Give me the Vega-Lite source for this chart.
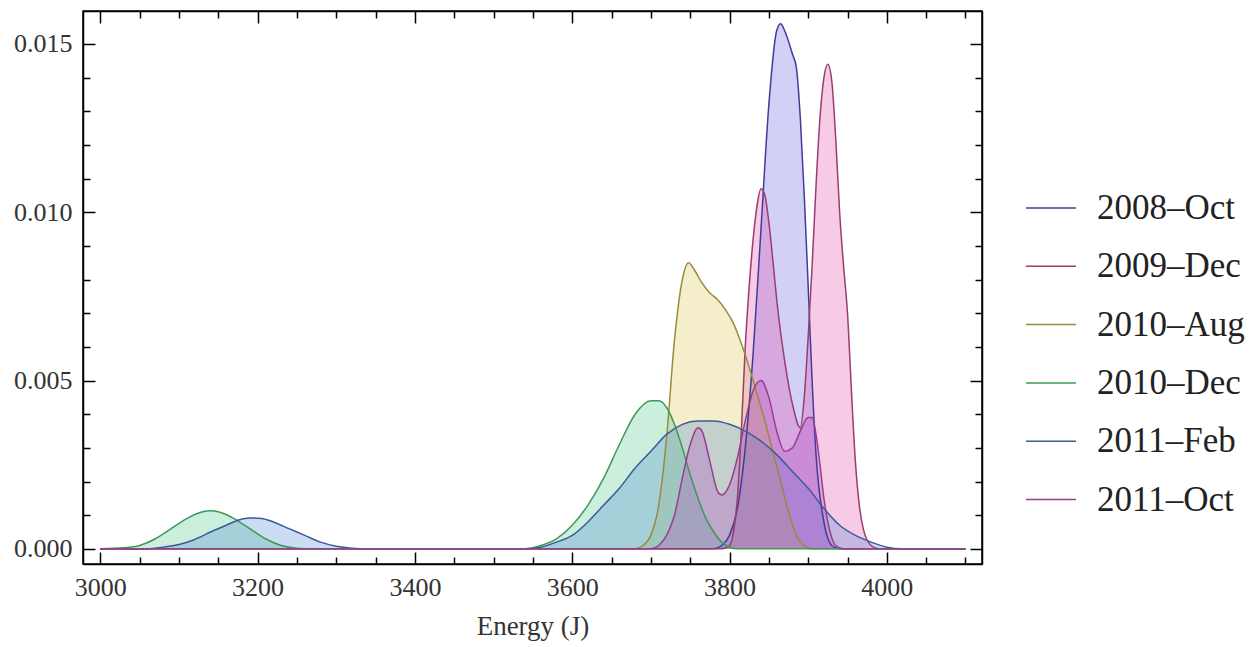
{
  "$schema": "https://vega.github.io/schema/vega-lite/v6.json",
  "width": 899,
  "height": 553,
  "autosize": {"type": "none"},
  "padding": {"left": 83, "top": 11, "right": 276, "bottom": 83},
  "background": "white",
  "config": {"view": {"stroke": "black", "strokeWidth": 1.5}, "font": "Liberation Serif"},
  "datasets": {
    "d": [
      {"s":"2008–Oct","E":3000,"d":0},{"s":"2008–Oct","E":3780,"d":0},{"s":"2008–Oct","E":3790,"d":0.0001},{"s":"2008–Oct","E":3800,"d":0.0004},{"s":"2008–Oct","E":3810,"d":0.0012},{"s":"2008–Oct","E":3820,"d":0.003},{"s":"2008–Oct","E":3830,"d":0.0058},{"s":"2008–Oct","E":3840,"d":0.0095},{"s":"2008–Oct","E":3850,"d":0.0132},{"s":"2008–Oct","E":3860,"d":0.0154},{"s":"2008–Oct","E":3865,"d":0.0156},{"s":"2008–Oct","E":3870,"d":0.0154},{"s":"2008–Oct","E":3880,"d":0.0147},{"s":"2008–Oct","E":3885,"d":0.0143},{"s":"2008–Oct","E":3890,"d":0.0128},{"s":"2008–Oct","E":3895,"d":0.0105},{"s":"2008–Oct","E":3900,"d":0.0078},{"s":"2008–Oct","E":3905,"d":0.005},{"s":"2008–Oct","E":3910,"d":0.0028},{"s":"2008–Oct","E":3920,"d":0.0008},{"s":"2008–Oct","E":3930,"d":0.0001},{"s":"2008–Oct","E":3940,"d":0},{"s":"2008–Oct","E":4100,"d":0},

      {"s":"2009–Dec","E":3000,"d":0},{"s":"2009–Dec","E":3790,"d":0},{"s":"2009–Dec","E":3800,"d":0.0001},{"s":"2009–Dec","E":3805,"d":0.0005},{"s":"2009–Dec","E":3810,"d":0.0015},{"s":"2009–Dec","E":3815,"d":0.0035},{"s":"2009–Dec","E":3820,"d":0.006},{"s":"2009–Dec","E":3825,"d":0.0078},{"s":"2009–Dec","E":3830,"d":0.0092},{"s":"2009–Dec","E":3835,"d":0.0102},{"s":"2009–Dec","E":3840,"d":0.0107},{"s":"2009–Dec","E":3845,"d":0.0105},{"s":"2009–Dec","E":3850,"d":0.0097},{"s":"2009–Dec","E":3855,"d":0.0086},{"s":"2009–Dec","E":3860,"d":0.0074},{"s":"2009–Dec","E":3870,"d":0.0056},{"s":"2009–Dec","E":3880,"d":0.0043},{"s":"2009–Dec","E":3890,"d":0.0036},{"s":"2009–Dec","E":3895,"d":0.0045},{"s":"2009–Dec","E":3900,"d":0.0063},{"s":"2009–Dec","E":3905,"d":0.0084},{"s":"2009–Dec","E":3910,"d":0.0108},{"s":"2009–Dec","E":3915,"d":0.0128},{"s":"2009–Dec","E":3920,"d":0.014},{"s":"2009–Dec","E":3925,"d":0.0144},{"s":"2009–Dec","E":3930,"d":0.0139},{"s":"2009–Dec","E":3935,"d":0.0122},{"s":"2009–Dec","E":3940,"d":0.01},{"s":"2009–Dec","E":3945,"d":0.0084},{"s":"2009–Dec","E":3950,"d":0.007},{"s":"2009–Dec","E":3955,"d":0.0047},{"s":"2009–Dec","E":3960,"d":0.0026},{"s":"2009–Dec","E":3965,"d":0.0013},{"s":"2009–Dec","E":3970,"d":0.0006},{"s":"2009–Dec","E":3980,"d":0.0001},{"s":"2009–Dec","E":3990,"d":0},{"s":"2009–Dec","E":4100,"d":0},

      {"s":"2010–Aug","E":3000,"d":0},{"s":"2010–Aug","E":3680,"d":0},{"s":"2010–Aug","E":3690,"d":0.0001},{"s":"2010–Aug","E":3700,"d":0.0004},{"s":"2010–Aug","E":3710,"d":0.0013},{"s":"2010–Aug","E":3720,"d":0.0033},{"s":"2010–Aug","E":3730,"d":0.0062},{"s":"2010–Aug","E":3740,"d":0.008},{"s":"2010–Aug","E":3748,"d":0.0085},{"s":"2010–Aug","E":3755,"d":0.0083},{"s":"2010–Aug","E":3765,"d":0.0079},{"s":"2010–Aug","E":3775,"d":0.0076},{"s":"2010–Aug","E":3785,"d":0.0074},{"s":"2010–Aug","E":3795,"d":0.0071},{"s":"2010–Aug","E":3805,"d":0.0067},{"s":"2010–Aug","E":3815,"d":0.0061},{"s":"2010–Aug","E":3825,"d":0.0054},{"s":"2010–Aug","E":3835,"d":0.0046},{"s":"2010–Aug","E":3845,"d":0.0038},{"s":"2010–Aug","E":3855,"d":0.0029},{"s":"2010–Aug","E":3865,"d":0.002},{"s":"2010–Aug","E":3875,"d":0.0011},{"s":"2010–Aug","E":3885,"d":0.0004},{"s":"2010–Aug","E":3895,"d":0.0001},{"s":"2010–Aug","E":3905,"d":0},{"s":"2010–Aug","E":4100,"d":0},

      {"s":"2010–Dec","E":3000,"d":0},{"s":"2010–Dec","E":3030,"d":0.00003},{"s":"2010–Dec","E":3050,"d":0.0001},{"s":"2010–Dec","E":3070,"d":0.0003},{"s":"2010–Dec","E":3090,"d":0.0006},{"s":"2010–Dec","E":3110,"d":0.0009},{"s":"2010–Dec","E":3130,"d":0.0011},{"s":"2010–Dec","E":3140,"d":0.00113},{"s":"2010–Dec","E":3150,"d":0.0011},{"s":"2010–Dec","E":3170,"d":0.0009},{"s":"2010–Dec","E":3190,"d":0.0006},{"s":"2010–Dec","E":3210,"d":0.0003},{"s":"2010–Dec","E":3230,"d":0.0001},{"s":"2010–Dec","E":3250,"d":0.00002},{"s":"2010–Dec","E":3270,"d":0},{"s":"2010–Dec","E":3540,"d":0},{"s":"2010–Dec","E":3560,"d":0.0001},{"s":"2010–Dec","E":3580,"d":0.0003},{"s":"2010–Dec","E":3600,"d":0.0007},{"s":"2010–Dec","E":3620,"d":0.0013},{"s":"2010–Dec","E":3640,"d":0.0021},{"s":"2010–Dec","E":3660,"d":0.0031},{"s":"2010–Dec","E":3680,"d":0.004},{"s":"2010–Dec","E":3700,"d":0.0044},{"s":"2010–Dec","E":3710,"d":0.0044},{"s":"2010–Dec","E":3720,"d":0.0042},{"s":"2010–Dec","E":3730,"d":0.0037},{"s":"2010–Dec","E":3740,"d":0.003},{"s":"2010–Dec","E":3750,"d":0.0022},{"s":"2010–Dec","E":3760,"d":0.0015},{"s":"2010–Dec","E":3770,"d":0.0009},{"s":"2010–Dec","E":3780,"d":0.0005},{"s":"2010–Dec","E":3790,"d":0.0002},{"s":"2010–Dec","E":3810,"d":0},{"s":"2010–Dec","E":4100,"d":0},

      {"s":"2011–Feb","E":3000,"d":0},{"s":"2011–Feb","E":3060,"d":0},{"s":"2011–Feb","E":3080,"d":0.00005},{"s":"2011–Feb","E":3100,"d":0.00013},{"s":"2011–Feb","E":3120,"d":0.00028},{"s":"2011–Feb","E":3140,"d":0.0005},{"s":"2011–Feb","E":3160,"d":0.0007},{"s":"2011–Feb","E":3175,"d":0.00085},{"s":"2011–Feb","E":3190,"d":0.00092},{"s":"2011–Feb","E":3205,"d":0.0009},{"s":"2011–Feb","E":3220,"d":0.0008},{"s":"2011–Feb","E":3240,"d":0.0006},{"s":"2011–Feb","E":3260,"d":0.0004},{"s":"2011–Feb","E":3280,"d":0.0002},{"s":"2011–Feb","E":3300,"d":0.00008},{"s":"2011–Feb","E":3320,"d":0.00002},{"s":"2011–Feb","E":3340,"d":0},{"s":"2011–Feb","E":3540,"d":0},{"s":"2011–Feb","E":3560,"d":0.00005},{"s":"2011–Feb","E":3580,"d":0.0002},{"s":"2011–Feb","E":3600,"d":0.0004},{"s":"2011–Feb","E":3620,"d":0.0008},{"s":"2011–Feb","E":3640,"d":0.0013},{"s":"2011–Feb","E":3660,"d":0.0018},{"s":"2011–Feb","E":3680,"d":0.0024},{"s":"2011–Feb","E":3700,"d":0.0029},{"s":"2011–Feb","E":3720,"d":0.0034},{"s":"2011–Feb","E":3740,"d":0.0037},{"s":"2011–Feb","E":3760,"d":0.0038},{"s":"2011–Feb","E":3780,"d":0.0038},{"s":"2011–Feb","E":3800,"d":0.0037},{"s":"2011–Feb","E":3820,"d":0.0035},{"s":"2011–Feb","E":3840,"d":0.0032},{"s":"2011–Feb","E":3860,"d":0.0028},{"s":"2011–Feb","E":3880,"d":0.0023},{"s":"2011–Feb","E":3900,"d":0.0018},{"s":"2011–Feb","E":3920,"d":0.0012},{"s":"2011–Feb","E":3940,"d":0.0007},{"s":"2011–Feb","E":3960,"d":0.0004},{"s":"2011–Feb","E":3980,"d":0.0002},{"s":"2011–Feb","E":4000,"d":0.00005},{"s":"2011–Feb","E":4020,"d":0},{"s":"2011–Feb","E":4100,"d":0},

      {"s":"2011–Oct","E":3000,"d":0},{"s":"2011–Oct","E":3700,"d":0},{"s":"2011–Oct","E":3710,"d":0.0001},{"s":"2011–Oct","E":3720,"d":0.0004},{"s":"2011–Oct","E":3730,"d":0.001},{"s":"2011–Oct","E":3740,"d":0.0021},{"s":"2011–Oct","E":3750,"d":0.0031},{"s":"2011–Oct","E":3760,"d":0.0036},{"s":"2011–Oct","E":3765,"d":0.0035},{"s":"2011–Oct","E":3775,"d":0.0026},{"s":"2011–Oct","E":3785,"d":0.0017},{"s":"2011–Oct","E":3790,"d":0.0016},{"s":"2011–Oct","E":3800,"d":0.0019},{"s":"2011–Oct","E":3810,"d":0.0027},{"s":"2011–Oct","E":3820,"d":0.0038},{"s":"2011–Oct","E":3830,"d":0.0047},{"s":"2011–Oct","E":3840,"d":0.005},{"s":"2011–Oct","E":3850,"d":0.0045},{"s":"2011–Oct","E":3860,"d":0.0035},{"s":"2011–Oct","E":3870,"d":0.0029},{"s":"2011–Oct","E":3880,"d":0.003},{"s":"2011–Oct","E":3890,"d":0.0035},{"s":"2011–Oct","E":3900,"d":0.0039},{"s":"2011–Oct","E":3905,"d":0.0039},{"s":"2011–Oct","E":3910,"d":0.0034},{"s":"2011–Oct","E":3915,"d":0.0025},{"s":"2011–Oct","E":3920,"d":0.0015},{"s":"2011–Oct","E":3925,"d":0.0008},{"s":"2011–Oct","E":3935,"d":0.0001},{"s":"2011–Oct","E":3945,"d":0},{"s":"2011–Oct","E":4100,"d":0}
    ]
  },
  "data": {"name": "d"},
  "layer": [
    {
      "mark": {"type": "area", "interpolate": "monotone", "fillOpacity": 0.27},
      "encoding": {
        "x": {"field": "E", "type": "quantitative", "scale": {"domain": [2978, 4121], "nice": false, "zero": false},
          "axis": {"orient": "bottom", "values": [3000,3050,3100,3150,3200,3250,3300,3350,3400,3450,3500,3550,3600,3650,3700,3750,3800,3850,3900,3950,4000,4050,4100],
            "labelExpr": "round(datum.value) % 200 === 0 ? format(datum.value, 'd') : ''",
            "tickSize": {"condition": {"test": "round(datum.value) % 200 === 0", "value": -12}, "value": -7},
            "tickColor": "black", "tickWidth": 1.5, "domainColor": "black", "domainWidth": 1.5,
            "labelFont": "Liberation Serif", "labelFontSize": 26, "labelColor": "#333", "labelPadding": 22, "labelFlush": false,
            "title": "Energy (J)", "titleFont": "Liberation Serif", "titleFontSize": 27, "titleFontWeight": "normal", "titleColor": "#333", "titlePadding": 13, "grid": false}},
        "y": {"field": "d", "type": "quantitative", "stack": null, "scale": {"domain": [-0.00045, 0.01598], "nice": false, "zero": false},
          "axis": {"orient": "left", "values": [0,0.001,0.002,0.003,0.004,0.005,0.006,0.007,0.008,0.009,0.01,0.011,0.012,0.013,0.014,0.015],
            "labelExpr": "round(datum.value*1000) % 5 === 0 ? format(datum.value, '.3f') : ''",
            "tickSize": {"condition": {"test": "round(datum.value*1000) % 5 === 0", "value": -12}, "value": -7},
            "tickColor": "black", "tickWidth": 1.5, "domainColor": "black", "domainWidth": 1.5,
            "labelFont": "Liberation Serif", "labelFontSize": 26, "labelColor": "#333", "labelPadding": 23, "labelFlush": false,
            "title": null, "grid": false}},
        "fill": {"field": "s", "type": "nominal", "legend": null,
          "scale": {"domain": ["2008–Oct","2009–Dec","2010–Aug","2010–Dec","2011–Feb","2011–Oct"],
                    "range": ["#5a50e0","#e040a0","#d8c040","#40c080","#4080d0","#b040c0"]}}
      }
    },
    {
      "mark": {"type": "line", "interpolate": "monotone", "strokeWidth": 1.5},
      "encoding": {
        "x": {"field": "E", "type": "quantitative",
          "axis": {"orient": "top", "values": [3000,3050,3100,3150,3200,3250,3300,3350,3400,3450,3500,3550,3600,3650,3700,3750,3800,3850,3900,3950,4000,4050,4100],
            "labels": false, "title": null, "grid": false,
            "tickSize": {"condition": {"test": "round(datum.value) % 200 === 0", "value": -12}, "value": -7},
            "tickColor": "black", "tickWidth": 1.5, "domainColor": "black", "domainWidth": 1.5}},
        "y": {"field": "d", "type": "quantitative", "stack": null,
          "axis": {"orient": "right", "values": [0,0.001,0.002,0.003,0.004,0.005,0.006,0.007,0.008,0.009,0.01,0.011,0.012,0.013,0.014,0.015],
            "labels": false, "title": null, "grid": false,
            "tickSize": {"condition": {"test": "round(datum.value*1000) % 5 === 0", "value": -12}, "value": -7},
            "tickColor": "black", "tickWidth": 1.5, "domainColor": "black", "domainWidth": 1.5}},
        "stroke": {"field": "s", "type": "nominal",
          "scale": {"domain": ["2008–Oct","2009–Dec","2010–Aug","2010–Dec","2011–Feb","2011–Oct"],
                    "range": ["#3f3d99","#993d71","#998b3d","#3d9956","#3d5a99","#993d90"]},
          "legend": {"orient": "none", "legendX": 942, "legendY": 171, "title": null,
            "symbolType": "stroke", "symbolSize": 2500, "symbolStrokeWidth": 1.5,
            "labelFont": "Liberation Serif", "labelFontSize": 35, "labelColor": "#222", "labelOffset": 20,
            "rowPadding": 14.3, "labelLimit": 300, "padding": 0}}
      }
    }
  ],
  "resolve": {"axis": {"x": "independent", "y": "independent"}, "legend": {"fill": "independent", "stroke": "independent"}}
}
